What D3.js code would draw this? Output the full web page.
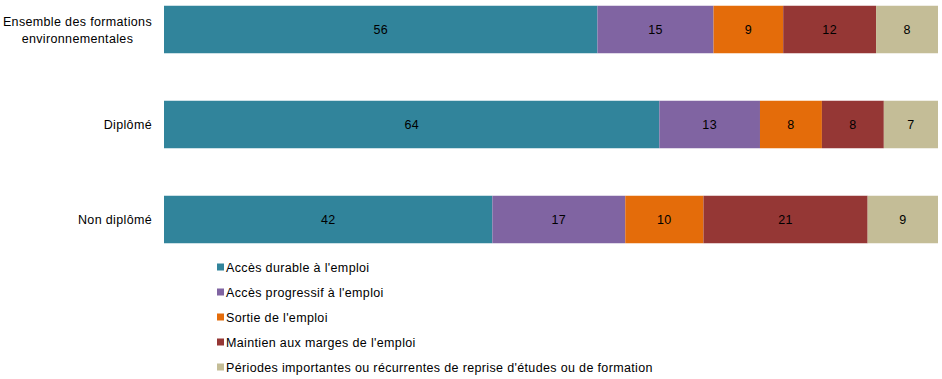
<!DOCTYPE html>
<html><head><meta charset="utf-8">
<script src="https://cdn.jsdelivr.net/npm/d3@7"></script>
<style>body{margin:0;background:#fff}svg{display:block;font-family:"Liberation Sans",Arial,sans-serif}text{letter-spacing:0.35px}</style>
</head><body><svg id="c" width="942" height="379"></svg>
<script>
const categories = ["Ensemble des formations\nenvironnementales", "Diplômé", "Non diplômé"];
const seriesNames = ["Accès durable à l'emploi", "Accès progressif à l'emploi", "Sortie de l'emploi", "Maintien aux marges de l'emploi", "Périodes importantes ou récurrentes de reprise d'études ou de formation"];
const colors = ["#31849B", "#8064A2", "#E46C0A", "#953735", "#C4BD97"];
const accesDurable = [56, 64, 42];
const accesProgressif = [15, 13, 17];
const sortie = [9, 8, 10];
const maintien = [12, 8, 21];
const reprise = [8, 7, 9];
const series = [accesDurable, accesProgressif, sortie, maintien, reprise];

const FS = 12.5;
const svg = d3.select("#c");
const x = d3.scaleLinear().domain([0, 1]).range([164, 938]);
const y = d3.scaleBand().domain(categories).range([-18, 267]).paddingInner(0.5).paddingOuter(0.25);

categories.forEach((cat, i) => {
  const total = d3.sum(series, s => s[i]);
  let cum = 0;
  const yy = y(cat), h = y.bandwidth();
  series.forEach((s, k) => {
    const x0 = x(cum / total), x1 = x((cum + s[i]) / total);
    svg.append("rect").attr("x", x0).attr("y", yy).attr("width", x1 - x0).attr("height", h).attr("fill", colors[k]);
    svg.append("text").attr("x", (x0 + x1) / 2).attr("y", yy + h / 2 + 4.5).attr("text-anchor", "middle")
      .attr("font-size", FS).attr("fill", "#000").text(s[i]);
    cum += s[i];
  });
  const lines = cat.split("\n");
  const g = svg.append("g");
  const texts = lines.map((l, j) => g.append("text").attr("font-size", FS).attr("fill", "#000")
    .attr("y", yy + h / 2 + 4.5 + (j - (lines.length - 1) / 2) * 17).text(l));
  const widths = texts.map(t => t.node().getComputedTextLength());
  const maxW = d3.max(widths);
  const right = 152;
  texts.forEach(t => t.attr("x", right - maxW / 2).attr("text-anchor", "middle"));
});

const legend = svg.append("g");
seriesNames.forEach((n, k) => {
  const ly = 267 + k * 25;
  legend.append("rect").attr("x", 217).attr("y", ly - 3.5).attr("width", 7).attr("height", 7).attr("fill", colors[k]);
  legend.append("text").attr("x", 226).attr("y", ly + 4.5).attr("font-size", FS).attr("fill", "#000").text(n);
});
</script></body></html>
